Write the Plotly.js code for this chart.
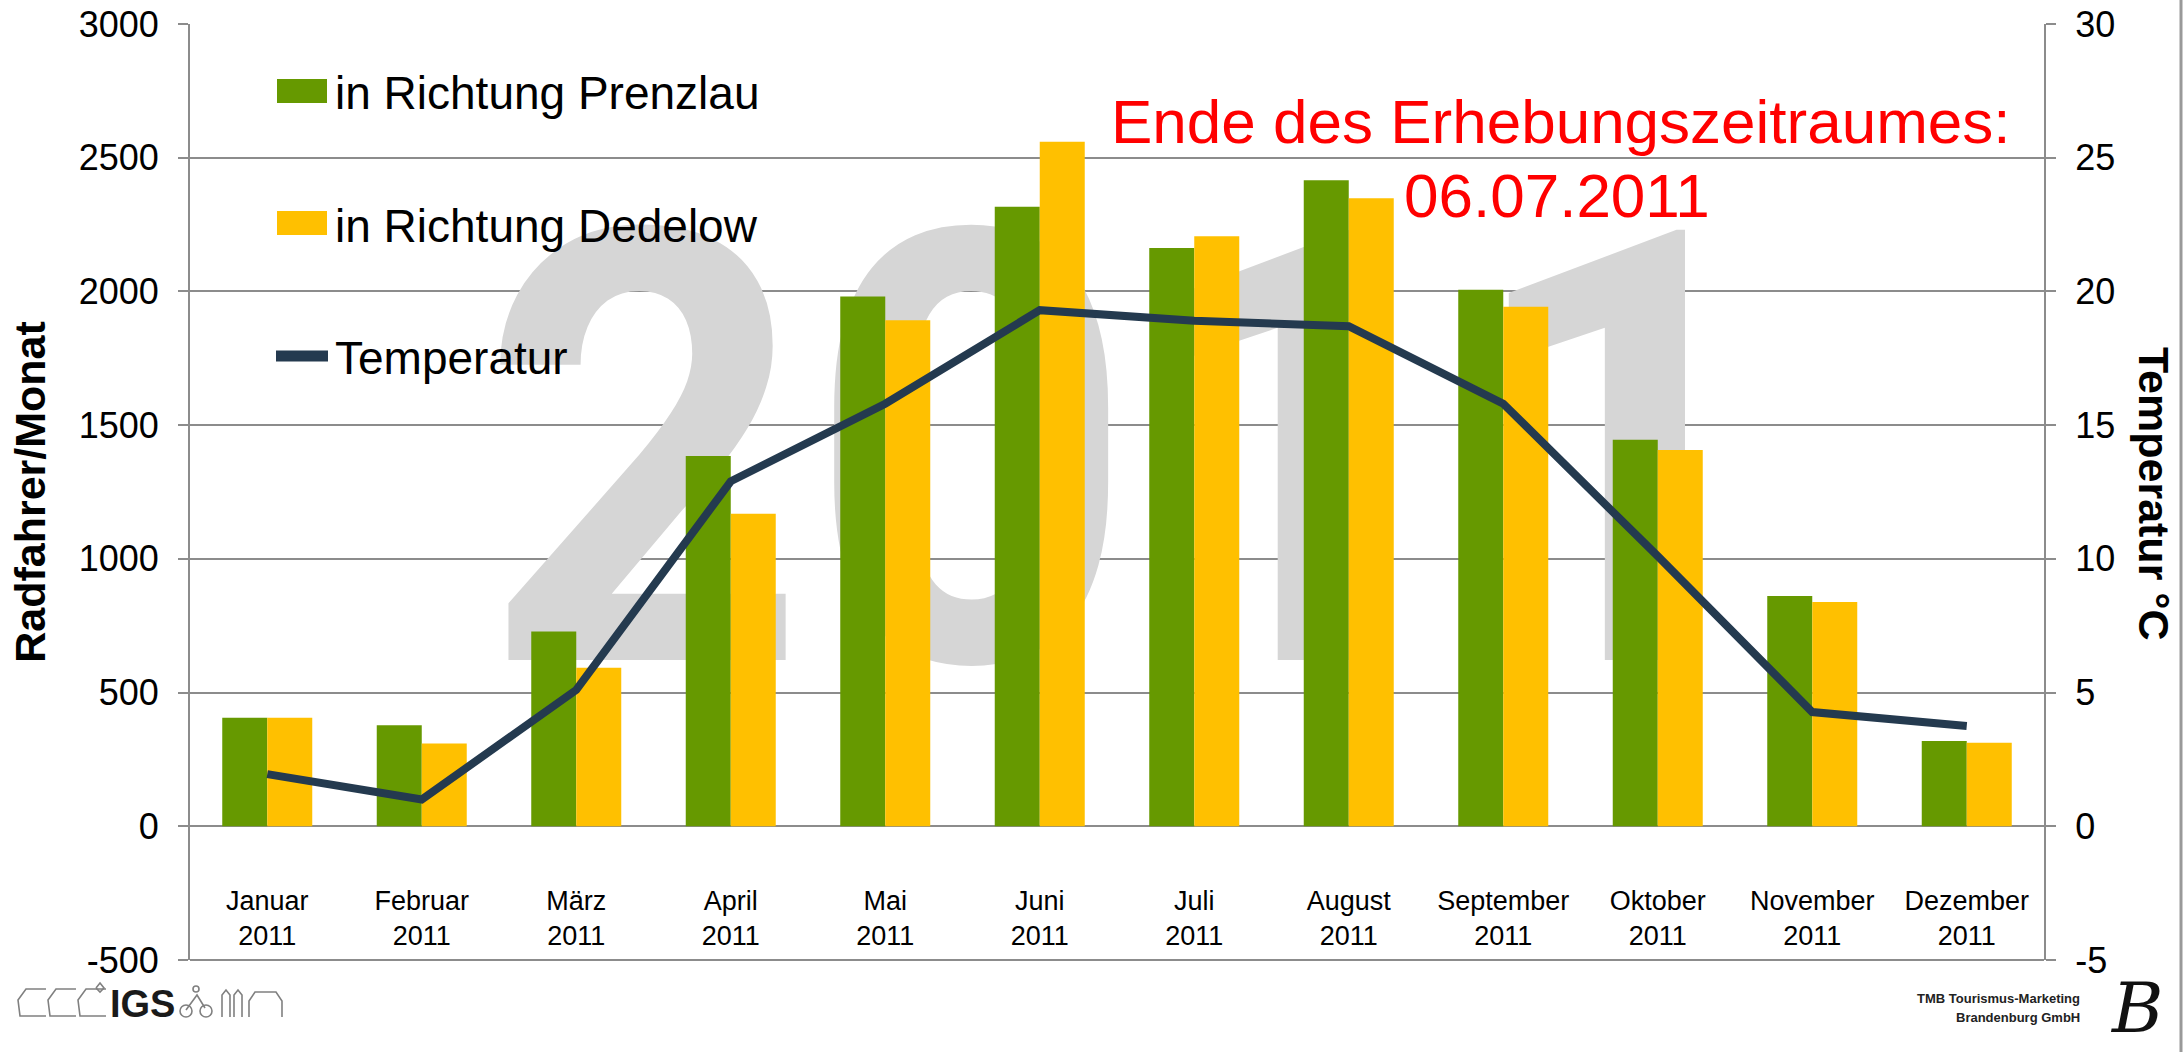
<!DOCTYPE html>
<html><head><meta charset="utf-8">
<script src="https://cdn.plot.ly/plotly-3.0.1.min.js"></script>
<style>html,body{margin:0;padding:0;background:#fff}#chart{width:2184px;height:1052px}</style>
</head><body><div id="chart"></div>
<script>
// ---- data ----
const months = ['Januar','Februar','März','April','Mai','Juni','Juli','August','September','Oktober','November','Dezember'];
const year = '2011';
const prenzlau = [406, 378, 728, 1385, 1981, 2317, 2162, 2416, 2006, 1445, 861, 319];
const dedelow  = [406, 310, 593, 1169, 1892, 2560, 2206, 2348, 1943, 1407, 839, 312];
const temperatur = [1.95, 1.0, 5.1, 12.9, 15.8, 19.3, 18.9, 18.7, 15.8, 10.1, 4.27, 3.75];
const seriesNames = ['in Richtung Prenzlau', 'in Richtung Dedelow', 'Temperatur'];
const leftTicks = [-500, 0, 500, 1000, 1500, 2000, 2500, 3000];
const leftTickText = ['-500', '0', '500', '1000', '1500', '2000', '2500', '3000'];
const rightTicks = [-5, 0, 5, 10, 15, 20, 25, 30];
const rightTickText = ['-5', '0', '5', '10', '15', '20', '25', '30'];
const axisTitles = ['Radfahrer/Monat', 'Temperatur °C'];
const noteLines = ['Ende des Erhebungszeitraumes:', '06.07.2011'];
const logoTexts = ['IGS', 'TMB Tourismus-Marketing', 'Brandenburg GmbH', 'B'];

// ---- styling / geometry ----
const FONT = 'Liberation Sans, Arial, sans-serif';
const GREEN = '#669900', YELLOW = '#FFC000', NAVY = '#243A4F', GRID = '#8c8c8c';
const W = 2184, H = 1052, ML = 190, MR = 140, MT = 24, MB = 92;
const PW = W - ML - MR, PH = H - MT - MB;
const px = x => (x - ML) / PW;
const py = y => 1 - (y - MT) / PH;
const pathPx = pts => pts.map((p, i) => (i ? 'L' : 'M') + px(p[0]).toFixed(5) + ',' + py(p[1]).toFixed(5)).join(' ');

const cats = months.map(m => m + '<br>' + year);

const traces = [
  // empty trace that keeps the base (watermark) subplot
  {type: 'scatter', mode: 'markers', x: [], y: [], xaxis: 'x', yaxis: 'y', hoverinfo: 'skip', showlegend: false},
  {type: 'bar', name: seriesNames[0], x: cats, y: prenzlau, marker: {color: GREEN}, xaxis: 'x2', yaxis: 'y2', hoverinfo: 'skip'},
  {type: 'bar', name: seriesNames[1], x: cats, y: dedelow, marker: {color: YELLOW}, xaxis: 'x2', yaxis: 'y2', hoverinfo: 'skip'},
  {type: 'scatter', mode: 'lines', name: seriesNames[2], x: cats, y: temperatur,
   line: {color: NAVY, width: 8}, xaxis: 'x2', yaxis: 'y3', hoverinfo: 'skip'}
];

// custom legend
const legendRows = [
  {name: seriesNames[0], color: GREEN, kind: 'box', top: 79, bottom: 103, cy: 93},
  {name: seriesNames[1], color: YELLOW, kind: 'box', top: 211, bottom: 235, cy: 226},
  {name: seriesNames[2], color: NAVY, kind: 'line', top: 356, bottom: 356, cy: 358}
];
const shapes = [];
const annotations = [];
legendRows.forEach(r => {
  if (r.kind === 'box') {
    shapes.push({type: 'rect', xref: 'paper', yref: 'paper', x0: px(277), x1: px(327), y0: py(r.bottom), y1: py(r.top),
      fillcolor: r.color, line: {width: 0}});
  } else {
    shapes.push({type: 'line', xref: 'paper', yref: 'paper', x0: px(276), x1: px(328), y0: py(r.top), y1: py(r.top),
      line: {color: r.color, width: 11}});
  }
  annotations.push({xref: 'paper', yref: 'paper', x: px(333), y: py(r.cy), xanchor: 'left', yanchor: 'middle',
    text: r.name, showarrow: false, font: {family: FONT, size: 46, color: '#000'}});
});

// note in red
annotations.push({xref: 'paper', yref: 'paper', x: px(1561), y: py(121.5), xanchor: 'center', yanchor: 'middle',
  text: noteLines[0], showarrow: false, font: {family: FONT, size: 62, color: '#FF0000'}});
annotations.push({xref: 'paper', yref: 'paper', x: px(1557), y: py(195.5), xanchor: 'center', yanchor: 'middle',
  text: noteLines[1], showarrow: false, font: {family: FONT, size: 62, color: '#FF0000'}});

// right axis title (reads top to bottom)
annotations.push({xref: 'paper', yref: 'paper', x: px(2154), y: py(494), xanchor: 'center', yanchor: 'middle',
  text: '<b>' + axisTitles[1] + '</b>', textangle: 90, showarrow: false, font: {family: FONT, size: 43, color: '#000'}});

// logos
annotations.push({xref: 'paper', yref: 'paper', x: px(142), y: py(1004), xanchor: 'center', yanchor: 'middle',
  text: '<b>' + logoTexts[0] + '</b>', showarrow: false, font: {family: FONT, size: 38, color: '#1a1a1a'}});
annotations.push({xref: 'paper', yref: 'paper', x: px(2082), y: py(998), xanchor: 'right', yanchor: 'middle',
  text: '<b>' + logoTexts[1] + '</b>', showarrow: false, font: {family: FONT, size: 13, color: '#222'}});
annotations.push({xref: 'paper', yref: 'paper', x: px(2082), y: py(1017), xanchor: 'right', yanchor: 'middle',
  text: '<b>' + logoTexts[2] + '</b>', showarrow: false, font: {family: FONT, size: 13, color: '#222'}});
annotations.push({xref: 'paper', yref: 'paper', x: px(2136), y: py(1008), xanchor: 'center', yanchor: 'middle',
  text: '<i>' + logoTexts[3] + '</i>', showarrow: false, font: {family: 'DejaVu Serif, serif', size: 70, color: '#111'}});

// IGS logo line art
const logoLine = {color: '#808080', width: 1.6};
[
  [[46,989],[26,989],[18,1000],[20,1016],[46,1016]],
  [[76,989],[56,989],[48,1000],[50,1016],[76,1016]],
  [[106,989],[86,989],[78,1000],[80,1016],[106,1016]],
  [[96,988],[100,983],[104,988],[100,992],[96,988]],
  [[249,1017],[249,1001],[255,992],[276,992],[282,1001],[282,1017]],
  [[222,1017],[222,995],[226,990],[230,995],[230,1017]],
  [[234,1017],[234,995],[238,990],[242,995],[242,1017]],
  [[186,1010],[197,995],[205,1008]]
].forEach(p => shapes.push({type: 'path', xref: 'paper', yref: 'paper', path: pathPx(p), line: logoLine}));
[[186,1011],[206,1011]].forEach(c => shapes.push({type: 'circle', xref: 'paper', yref: 'paper',
  x0: px(c[0]-6), x1: px(c[0]+6), y0: py(c[1]+6), y1: py(c[1]-6), line: logoLine}));
shapes.push({type: 'circle', xref: 'paper', yref: 'paper', x0: px(193), x1: px(199), y0: py(992), y1: py(986), line: logoLine});

// bottom border of the plot area (at -500)
shapes.push({type: 'line', xref: 'paper', yref: 'paper', x0: 0, x1: 1, y0: 0, y1: 0,
  line: {color: GRID, width: 2}});
// slide border at far right
shapes.push({type: 'line', xref: 'paper', yref: 'paper', x0: px(2181), x1: px(2181), y0: py(1052), y1: py(0),
  line: {color: '#999', width: 3}});

const layout = {
  width: W, height: H,
  margin: {l: ML, r: MR, t: MT, b: MB, pad: 0},
  paper_bgcolor: '#ffffff', plot_bgcolor: 'rgba(0,0,0,0)',
  font: {family: FONT, color: '#000'},
  showlegend: false,
  barmode: 'group', bargap: 0.4175, bargroupgap: 0,
  xaxis: {range: [0, 1], visible: false, fixedrange: true},
  yaxis: {range: [0, 1], visible: false, fixedrange: true},
  xaxis2: {overlaying: 'x', type: 'category', anchor: 'free', position: 0.0833, range: [-0.5, 11.5],
    showline: false, showgrid: false, zeroline: false, ticks: '', tickangle: 0,
    tickfont: {family: FONT, size: 27, color: '#000'}},
  yaxis2: {overlaying: 'y', anchor: 'x', side: 'left', range: [-500, 3000],
    tickmode: 'array', tickvals: leftTicks, ticktext: leftTickText,
    showgrid: true, gridcolor: GRID, gridwidth: 2, zeroline: false,
    showline: true, linecolor: GRID, linewidth: 2,
    ticks: 'outside', ticklen: 10, tickwidth: 2, tickcolor: GRID, ticklabelstandoff: 12,
    tickfont: {family: FONT, size: 36, color: '#000'},
    title: {text: '<b>' + axisTitles[0] + '</b>', font: {family: FONT, size: 43, color: '#000'}, standoff: 20}},
  yaxis3: {overlaying: 'y', anchor: 'x', side: 'right', range: [-5, 30],
    tickmode: 'array', tickvals: rightTicks, ticktext: rightTickText,
    showgrid: false, zeroline: false, showline: true, linecolor: GRID, linewidth: 2,
    ticks: 'outside', ticklen: 10, tickwidth: 2, tickcolor: GRID, ticklabelstandoff: 12,
    tickfont: {family: FONT, size: 36, color: '#000'}},
  shapes: shapes,
  annotations: annotations
};

// large "2011" watermark, placed in the base subplot so it sits under bars and line
function addWatermark(gd) {
  const NS = 'http://www.w3.org/2000/svg';
  const over = gd.querySelector('.cartesianlayer .subplot.xy .overplot');
  if (!over) return;
  let host = over.querySelector(':scope > g.xy');
  let ox = 0, oy = 0;
  if (!host) { host = over; ox = ML; oy = MT; }
  const g = document.createElementNS(NS, 'g');
  const cx = 1097 - ML + ox;
  g.setAttribute('transform', 'translate(' + cx + ',0) scale(0.944,1) translate(' + (-cx) + ',0)');
  const t = document.createElementNS(NS, 'text');
  t.setAttribute('x', 1137 - ML + ox);
  t.setAttribute('y', 660 - MT + oy);
  t.setAttribute('text-anchor', 'middle');
  t.setAttribute('class', 'watermark');
  t.setAttribute('style', "font-family:Roboto,'Open Sans',sans-serif;font-weight:700;font-size:604px;fill:#D6D6D6;");
  t.textContent = year;
  g.appendChild(t);
  host.insertBefore(g, host.firstChild);
}

Plotly.newPlot('chart', traces, layout, {staticPlot: true, displayModeBar: false}).then(addWatermark);
</script>
</body></html>
